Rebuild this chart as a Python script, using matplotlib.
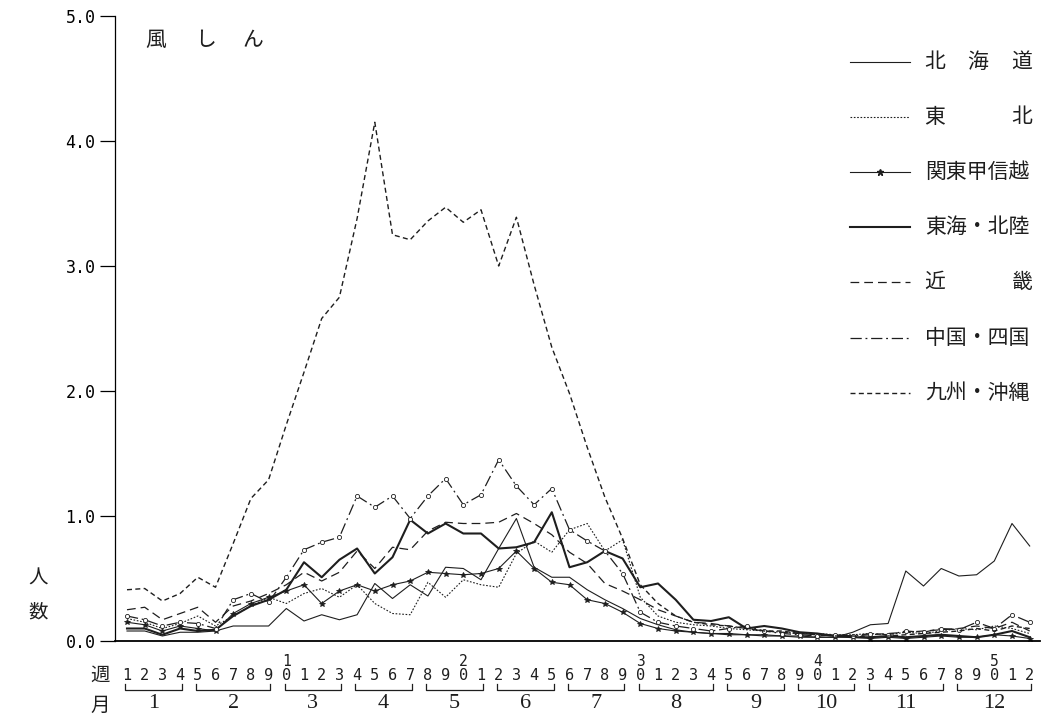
import numpy as np
import matplotlib
matplotlib.use('Agg')
import matplotlib.pyplot as plt
from matplotlib.lines import Line2D

plt.rcParams['font.family'] = ['Noto Sans CJK JP', 'DejaVu Sans']

# ---- data (patients per sentinel, by week) ----
weeks = np.arange(1, 53)

hokkaido = [0.08, 0.08, 0.04, 0.07, 0.07, 0.08, 0.12, 0.12, 0.12, 0.26,
            0.16, 0.21, 0.17, 0.21, 0.46, 0.34, 0.45, 0.36, 0.59, 0.58,
            0.49, 0.74, 0.98, 0.59, 0.51, 0.51, 0.41, 0.33, 0.26, 0.18,
            0.13, 0.09, 0.07, 0.06, 0.05, 0.05, 0.04, 0.04, 0.03, 0.03,
            0.03, 0.07, 0.13, 0.14, 0.56, 0.44, 0.58, 0.52, 0.53, 0.64, 0.94, 0.76]
tohoku = [0.18, 0.15, 0.10, 0.14, 0.20, 0.12, 0.20, 0.28, 0.35, 0.30,
          0.38, 0.42, 0.35, 0.45, 0.30, 0.22, 0.21, 0.47, 0.35, 0.49,
          0.45, 0.43, 0.70, 0.80, 0.71, 0.89, 0.94, 0.72, 0.81, 0.35,
          0.20, 0.15, 0.13, 0.12, 0.10, 0.09, 0.08, 0.07, 0.06, 0.06,
          0.05, 0.05, 0.06, 0.05, 0.07, 0.06, 0.08, 0.10, 0.09, 0.12, 0.10, 0.06]
kanto = [0.15, 0.13, 0.08, 0.12, 0.10, 0.08, 0.22, 0.30, 0.35, 0.40,
         0.45, 0.30, 0.40, 0.45, 0.40, 0.45, 0.48, 0.55, 0.54, 0.53,
         0.54, 0.58, 0.72, 0.58, 0.47, 0.45, 0.33, 0.30, 0.23, 0.14,
         0.10, 0.08, 0.07, 0.06, 0.06, 0.05, 0.05, 0.04, 0.04, 0.03,
         0.03, 0.03, 0.02, 0.03, 0.02, 0.03, 0.04, 0.03, 0.03, 0.05, 0.04, 0.02]
tokai = [0.10, 0.10, 0.05, 0.10, 0.08, 0.09, 0.20, 0.28, 0.33, 0.41,
         0.63, 0.51, 0.65, 0.74, 0.54, 0.67, 0.97, 0.86, 0.94, 0.86,
         0.86, 0.74, 0.75, 0.79, 1.03, 0.59, 0.63, 0.72, 0.66, 0.43,
         0.46, 0.33, 0.17, 0.16, 0.19, 0.10, 0.12, 0.10, 0.07, 0.06,
         0.04, 0.03, 0.03, 0.04, 0.03, 0.04, 0.05, 0.04, 0.03, 0.05, 0.08, 0.03]
kinki = [0.25, 0.27, 0.17, 0.22, 0.27, 0.15, 0.28, 0.32, 0.38, 0.45,
         0.55, 0.48, 0.55, 0.72, 0.58, 0.75, 0.73, 0.88, 0.95, 0.94,
         0.94, 0.95, 1.02, 0.94, 0.85, 0.71, 0.62, 0.46, 0.40, 0.33,
         0.25, 0.20, 0.15, 0.14, 0.12, 0.10, 0.08, 0.07, 0.06, 0.05,
         0.05, 0.04, 0.05, 0.06, 0.07, 0.08, 0.09, 0.10, 0.12, 0.10, 0.15, 0.08]
chugoku = [0.20, 0.17, 0.12, 0.15, 0.14, 0.10, 0.33, 0.38, 0.31, 0.51,
           0.73, 0.79, 0.83, 1.16, 1.07, 1.16, 0.98, 1.16, 1.30, 1.09,
           1.17, 1.45, 1.24, 1.09, 1.22, 0.89, 0.80, 0.72, 0.54, 0.23,
           0.15, 0.12, 0.10, 0.08, 0.10, 0.12, 0.08, 0.06, 0.05, 0.04,
           0.05, 0.04, 0.06, 0.05, 0.08, 0.07, 0.10, 0.09, 0.15, 0.10, 0.21, 0.15]
kyushu = [0.41, 0.42, 0.32, 0.38, 0.51, 0.43, 0.78, 1.14, 1.29, 1.73,
          2.15, 2.58, 2.75, 3.38, 4.15, 3.25, 3.21, 3.36, 3.47, 3.35,
          3.45, 3.00, 3.39, 2.85, 2.35, 1.98, 1.55, 1.15, 0.82, 0.45,
          0.30, 0.20, 0.15, 0.13, 0.12, 0.10, 0.08, 0.08, 0.06, 0.05,
          0.04, 0.04, 0.03, 0.04, 0.05, 0.06, 0.07, 0.08, 0.10, 0.08, 0.12, 0.10]

region_names = ['北海道', '東北', '関東甲信越', '東海・北陸', '近畿', '中国・四国', '九州・沖縄']
yticks = [0, 1, 2, 3, 4, 5]
ytick_labels = ['0.0', '1.0', '2.0', '3.0', '4.0', '5.0']
months = ['1', '2', '3', '4', '5', '6', '7', '8', '9', '10', '11', '12']
month_weeks = [(1, 4), (5, 9), (10, 13), (14, 17), (18, 21), (22, 25),
               (26, 29), (30, 34), (35, 38), (39, 42), (43, 47), (48, 52)]

# line styles per region
INK = '#1e1e1e'
styles = [
    dict(lw=0.8, ls='-'),
    dict(lw=0.8, ls=(0, (1.5, 1.5))),
    dict(lw=0.8, ls='-', marker='*', ms=4),
    dict(lw=1.5, ls='-'),
    dict(lw=0.9, ls=(0, (7, 4))),
    dict(lw=0.9, ls=(0, (9, 3, 1.5, 3)), marker='o', ms=3, mfc='white'),
    dict(lw=1.0, ls=(0, (3.6, 2.4))),
]

W, H = 1047, 726
fig = plt.figure(figsize=(W / 100, H / 100), dpi=100, facecolor='white')
ax = fig.add_axes([115 / W, 85 / H, 925 / W, 625 / H])

series = [hokkaido, tohoku, kanto, tokai, kinki, chugoku, kyushu]
for vals, st in zip(series, styles):
    ax.plot(weeks, vals, color=INK, mew=0.6, **st)

px_per_week = 17.7
x_left = 1 - 12 / px_per_week
ax.set_xlim(x_left, x_left + 925 / px_per_week)
ax.set_ylim(0, 5.0)

for s in ['top', 'right']:
    ax.spines[s].set_visible(False)
ax.spines['left'].set_linewidth(0.9)
ax.spines['bottom'].set_linewidth(1.3)
ax.set_xticks([])
ax.set_yticks(yticks)
ax.set_yticklabels(ytick_labels, family='DejaVu Sans Mono', fontsize=12)
ax.tick_params(axis='y', direction='out', length=11, width=0.9, pad=3)

# week numbers, month brackets
trans = ax.get_xaxis_transform()
def fy(py):  # pixel row -> axes fraction
    return (641 - py) / 625

for w in weeks:
    ax.text(w, fy(675), str(w % 10), transform=trans, ha='center', va='center',
            family='DejaVu Sans Mono', fontsize=11, color=INK)
    if w % 10 == 0:
        ax.text(w, fy(661), str(w // 10), transform=trans, ha='center', va='center',
                family='DejaVu Sans Mono', fontsize=10.5, color=INK)

for m, (a, b) in zip(months, month_weeks):
    xs = [a - 0.1, a - 0.1, b + 0.1, b + 0.1]
    ys = [fy(684), fy(690), fy(690), fy(684)]
    ax.plot(xs, ys, transform=trans, color=INK, lw=0.9, clip_on=False)
    ax.text((a + b) / 2, fy(704), m, transform=trans, ha='center', va='center',
            family='Liberation Serif', fontsize=16, color=INK)

def ftext(px, py, s, **kw):
    fig.text(px / W, 1 - py / H, s, va='center', color=INK, **kw)

ftext(100, 675, '週', ha='center', fontsize=14)
ftext(100, 705, '月', ha='center', fontsize=14)
ftext(38, 578, '人', ha='center', fontsize=14)
ftext(38, 612, '数', ha='center', fontsize=14)

# title
for cx, ch in zip([156, 206, 253], '風しん'):
    ftext(cx, 40, ch, ha='center', fontsize=15)

# legend drawn by hand
rows = [62, 117, 172, 227, 282, 338, 393]
for name, st, py in zip(region_names, styles, rows):
    yf = 1 - py / H
    kw = {k: v for k, v in st.items() if k not in ('marker', 'ms', 'mfc')}
    fig.add_artist(Line2D([850 / W, 910 / W], [yf, yf], color=INK, **kw))
    if st.get('marker') == '*':
        fig.add_artist(Line2D([880 / W], [yf], marker='*', ms=5, color=INK, ls='none'))
    if len(name) == 3 and '・' not in name:
        for cx, ch in zip([935, 978, 1022], name):
            ftext(cx, py, ch, ha='center', fontsize=15)
    elif len(name) == 2:
        ftext(935, py, name[0], ha='center', fontsize=15)
        ftext(1022, py, name[1], ha='center', fontsize=15)
    else:
        ftext(925, py, name, ha='left', fontsize=15)

fig.savefig('out.png', dpi=100, facecolor='white')
